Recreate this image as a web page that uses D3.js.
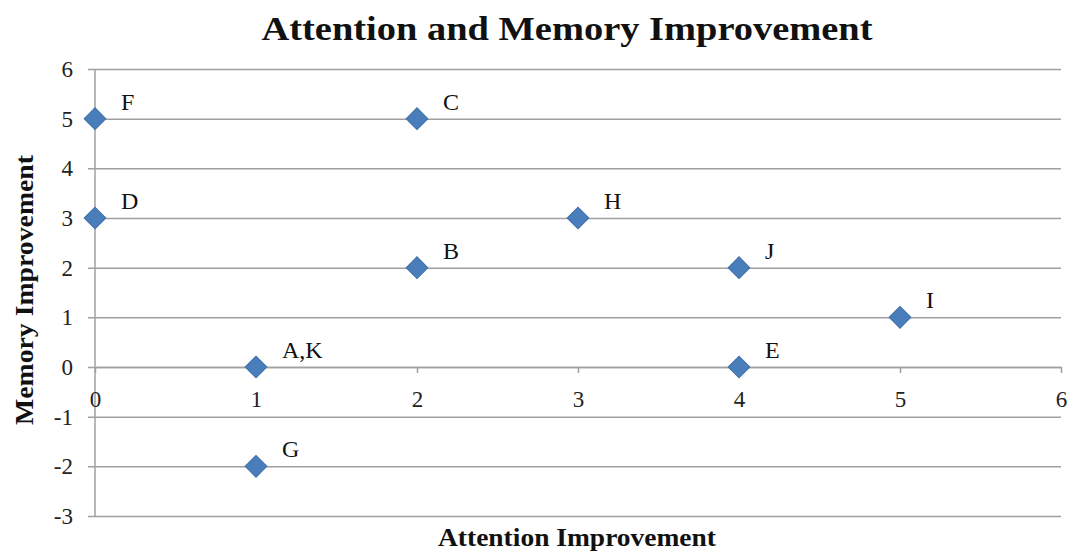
<!DOCTYPE html>
<html>
<head>
<meta charset="utf-8">
<script src="https://cdn.jsdelivr.net/npm/d3@7"></script>
<style>
	body { margin: 0; background: #fff; }
	text { font-family: "Liberation Serif", "Times New Roman", serif; }
</style>
</head>
<body>
<div id="chart"></div>
<script>
	// data
	var labels = ["F", "C", "D", "H", "B", "J", "I", "A,K", "E", "G"];
	var attention = [0, 2, 0, 3, 2, 4, 5, 1, 4, 1];
	var memory = [5, 5, 3, 3, 2, 2, 1, 0, 0, -2];
	var xTicks = [0, 1, 2, 3, 4, 5, 6];
	var yTicks = [-3, -2, -1, 0, 1, 2, 3, 4, 5, 6];

(function(){
	var w = 1074, h = 552;
	var pLeft = 95, pRight = 1061, pTop = 69, pBottom = 516;

	var svg = d3.select("#chart")
				.append("svg")
				.attr("width", w)
				.attr("height", h);

	var x = d3.scaleLinear().domain([0, 6]).range([pLeft, pRight]);
	var y = d3.scaleLinear().domain([-3, 6]).range([pBottom, pTop]);

	// 普通のハイフンで表示
	var fmt = function(d){ return String(d); };

	// gridlines + y ticks
	var yAxis = d3.axisLeft(y)
				.tickValues(yTicks)
				.tickSize(-(pRight - pLeft))
				.tickPadding(22)
				.tickFormat(fmt);
	var gy = svg.append("g")
				.attr("transform", "translate(" + pLeft + ",0)")
				.call(yAxis);
	gy.select(".domain").remove();
	gy.selectAll(".tick line")
		.attr("x1", -7)
		.attr("stroke", "#a0a0a0")
		.attr("stroke-width", 1.5);
	gy.selectAll(".tick text")
		.attr("font-size", 23)
		.attr("fill", "#222");

	// y axis line
	svg.append("line")
		.attr("x1", pLeft).attr("x2", pLeft)
		.attr("y1", pTop).attr("y2", pBottom)
		.attr("stroke", "#a0a0a0")
		.attr("stroke-width", 1.5);

	// x axis on y = 0
	var xAxis = d3.axisBottom(x)
				.tickValues(xTicks)
				.tickSize(6)
				.tickSizeOuter(0)
				.tickPadding(18)
				.tickFormat(fmt);
	var gx = svg.append("g")
				.attr("transform", "translate(0," + y(0) + ")")
				.call(xAxis);
	gx.select(".domain").attr("stroke", "#a0a0a0").attr("stroke-width", 1.5);
	gx.selectAll(".tick line").attr("stroke", "#a0a0a0").attr("stroke-width", 1.5);
	gx.selectAll(".tick text")
		.attr("font-size", 23)
		.attr("fill", "#222");

	// points
	var pts = labels.map(function(d, i){
		return {label: d, a: attention[i], m: memory[i]};
	});
	var diamond = d3.symbol().type(d3.symbolSquare).size(235);
	svg.selectAll("path.pt")
		.data(pts)
		.enter()
		.append("path")
		.attr("class", "pt")
		.attr("d", diamond)
		.attr("transform", function(d){
			return "translate(" + x(d.a) + "," + y(d.m) + ") rotate(45)";
		})
		.attr("fill", "#4a7ebb")
		.attr("stroke", "#3d6fa8")
		.attr("stroke-width", 1);

	svg.selectAll("text.lbl")
		.data(pts)
		.enter()
		.append("text")
		.attr("class", "lbl")
		.attr("x", function(d){ return x(d.a) + 26; })
		.attr("y", function(d){ return y(d.m) - 9; })
		.attr("font-size", 24)
		.attr("fill", "#111")
		.text(function(d){ return d.label; });

	// titles
	svg.append("text")
		.attr("x", 567).attr("y", 40)
		.attr("text-anchor", "middle")
		.attr("font-size", 34)
		.attr("font-weight", "bold")
		.attr("fill", "#111")
		.attr("textLength", 611)
		.attr("lengthAdjust", "spacingAndGlyphs")
		.text("Attention and Memory Improvement");

	svg.append("text")
		.attr("x", 577).attr("y", 546)
		.attr("text-anchor", "middle")
		.attr("font-size", 25)
		.attr("font-weight", "bold")
		.attr("fill", "#111")
		.attr("textLength", 278)
		.attr("lengthAdjust", "spacingAndGlyphs")
		.text("Attention Improvement");

	svg.append("text")
		.attr("transform", "translate(33,290) rotate(-90)")
		.attr("text-anchor", "middle")
		.attr("font-size", 25)
		.attr("font-weight", "bold")
		.attr("fill", "#111")
		.attr("textLength", 270)
		.attr("lengthAdjust", "spacingAndGlyphs")
		.text("Memory Improvement");
})();
</script>
</body>
</html>
